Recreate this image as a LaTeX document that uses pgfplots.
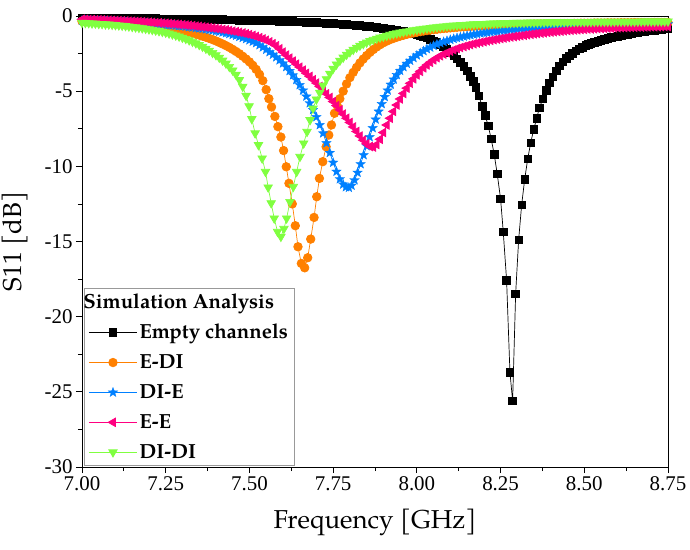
\documentclass[border=0pt]{standalone}
\usepackage{fontspec}
\setmainfont{TeX Gyre Pagella}
\newfontfamily\timesf{Liberation Serif}
\usepackage{pgfplots}
\pgfplotsset{compat=1.18}

\definecolor{cOrange}{RGB}{255,128,0}
\definecolor{cBlue}{RGB}{0,128,255}
\definecolor{cPink}{RGB}{255,0,128}
\definecolor{cGreen}{RGB}{128,255,64}

% filled five-pointed star
\pgfdeclareplotmark{fstar}{%
  \pgfpathmoveto{\pgfpointpolar{90}{\pgfplotmarksize}}%
  \pgfpathlineto{\pgfpointpolar{126}{0.42\pgfplotmarksize}}%
  \pgfpathlineto{\pgfpointpolar{162}{\pgfplotmarksize}}%
  \pgfpathlineto{\pgfpointpolar{198}{0.42\pgfplotmarksize}}%
  \pgfpathlineto{\pgfpointpolar{234}{\pgfplotmarksize}}%
  \pgfpathlineto{\pgfpointpolar{270}{0.42\pgfplotmarksize}}%
  \pgfpathlineto{\pgfpointpolar{306}{\pgfplotmarksize}}%
  \pgfpathlineto{\pgfpointpolar{342}{0.42\pgfplotmarksize}}%
  \pgfpathlineto{\pgfpointpolar{18}{\pgfplotmarksize}}%
  \pgfpathlineto{\pgfpointpolar{54}{0.42\pgfplotmarksize}}%
  \pgfpathclose\pgfusepathqfillstroke}

\begin{document}
\begin{tikzpicture}
\begin{axis}[
    scale only axis, width=586bp, height=451bp,
    xmin=7, xmax=8.75, ymin=-30, ymax=0,
    xtick={7,7.25,...,8.75}, ytick={-30,-25,...,0},
    minor x tick num=1, minor y tick num=1,
    xtick pos=bottom, ytick pos=left, tick align=outside,
    major tick length=6bp, minor tick length=4bp,
    axis line style={line width=1pt}, tick style={line width=0.8pt, black},
    xticklabel style={/pgf/number format/.cd, fixed, fixed zerofill, precision=2},
    /pgf/number format/assume math mode=true,
    ticklabel style={font=\timesf\fontsize{21}{25}\selectfont},
    xlabel={Frequency [GHz]}, ylabel={S11 [dB]},
    label style={font=\fontsize{26}{30}\selectfont},
    xlabel style={at={(axis description cs:0.5,-0.122)}, anchor=center},
    ylabel style={at={(axis description cs:-0.114,0.5)}, anchor=center},
    legend style={at={(rel axis cs:0.004,0.004)}, anchor=south west,
        draw=gray!80, line width=0.6pt, font=\bfseries\fontsize{20.5}{24}\selectfont,
        row sep=10.5bp, inner xsep=4bp, inner ysep=3bp},
    legend cell align=left,
    legend image code/.code={\draw[mark repeat=2,mark phase=2] plot coordinates {(0bp,0bp)(24bp,0bp)(48bp,0bp)};},
    every axis plot/.append style={line width=0.7pt},
]
\addlegendimage{empty legend}
\addlegendentry{\hspace{-56bp}Simulation Analysis}

\addplot[black, mark=square*, mark size=3.8bp, mark options={solid, fill=black}] table {
7.00 -0.12
7.01 -0.12
7.02 -0.12
7.03 -0.13
7.04 -0.13
7.05 -0.13
7.06 -0.13
7.07 -0.14
7.08 -0.14
7.09 -0.14
7.10 -0.14
7.11 -0.15
7.12 -0.15
7.13 -0.15
7.14 -0.15
7.15 -0.16
7.16 -0.16
7.17 -0.16
7.18 -0.16
7.19 -0.17
7.20 -0.17
7.21 -0.17
7.22 -0.17
7.23 -0.18
7.24 -0.18
7.25 -0.18
7.26 -0.18
7.27 -0.19
7.28 -0.19
7.29 -0.20
7.30 -0.20
7.31 -0.20
7.32 -0.20
7.33 -0.21
7.34 -0.21
7.35 -0.22
7.36 -0.22
7.37 -0.22
7.38 -0.22
7.39 -0.23
7.40 -0.23
7.41 -0.24
7.42 -0.24
7.43 -0.25
7.44 -0.25
7.45 -0.26
7.46 -0.26
7.47 -0.27
7.48 -0.27
7.49 -0.28
7.50 -0.28
7.51 -0.29
7.52 -0.29
7.53 -0.30
7.54 -0.30
7.55 -0.31
7.56 -0.32
7.57 -0.32
7.58 -0.33
7.59 -0.34
7.60 -0.35
7.61 -0.35
7.62 -0.36
7.63 -0.37
7.64 -0.38
7.65 -0.39
7.66 -0.40
7.67 -0.41
7.68 -0.42
7.69 -0.43
7.70 -0.44
7.71 -0.45
7.72 -0.46
7.73 -0.47
7.74 -0.49
7.75 -0.50
7.76 -0.52
7.77 -0.53
7.78 -0.55
7.79 -0.56
7.80 -0.58
7.81 -0.60
7.82 -0.62
7.83 -0.64
7.84 -0.66
7.85 -0.68
7.86 -0.70
7.87 -0.72
7.88 -0.75
7.89 -0.78
7.90 -0.82
7.91 -0.85
7.92 -0.88
7.93 -0.92
7.94 -0.96
7.95 -1.00
7.96 -1.04
7.97 -1.09
7.98 -1.14
7.99 -1.19
8.00 -1.25
8.01 -1.31
8.02 -1.38
8.03 -1.46
8.04 -1.55
8.05 -1.65
8.06 -1.75
8.07 -1.89
8.08 -2.05
8.09 -2.22
8.10 -2.40
8.11 -2.62
8.12 -2.85
8.13 -3.10
8.14 -3.35
8.15 -3.66
8.16 -4.00
8.168 -4.35
8.176 -4.75
8.185 -5.30
8.195 -6.00
8.204 -6.60
8.213 -7.30
8.222 -8.18
8.231 -9.20
8.240 -10.51
8.250 -12.16
8.258 -14.35
8.268 -17.59
8.278 -23.71
8.286 -25.60
8.295 -18.48
8.304 -14.88
8.313 -12.55
8.322 -10.87
8.331 -9.51
8.340 -8.43
8.349 -7.54
8.358 -6.80
8.366 -6.10
8.376 -5.52
8.386 -4.95
8.396 -4.45
8.406 -4.05
8.416 -3.65
8.426 -3.32
8.436 -3.05
8.446 -2.82
8.455 -2.65
8.465 -2.48
8.475 -2.32
8.485 -2.18
8.495 -2.07
8.505 -1.97
8.512 -1.90
8.52 -1.83
8.53 -1.75
8.54 -1.67
8.55 -1.60
8.56 -1.54
8.57 -1.48
8.58 -1.43
8.59 -1.38
8.60 -1.34
8.61 -1.29
8.62 -1.25
8.63 -1.21
8.64 -1.17
8.65 -1.13
8.66 -1.10
8.67 -1.06
8.68 -1.03
8.69 -1.00
8.70 -0.97
8.71 -0.94
8.72 -0.91
8.73 -0.88
8.74 -0.85
8.75 -0.82
};
\addlegendentry{Empty channels\hspace{9bp}}

\addplot[cOrange, mark=*, mark size=4.3bp, mark options={solid, fill=cOrange}] table {
7.00 -0.35
7.01 -0.36
7.02 -0.37
7.03 -0.38
7.04 -0.39
7.05 -0.40
7.06 -0.41
7.07 -0.42
7.08 -0.43
7.09 -0.45
7.10 -0.46
7.11 -0.47
7.12 -0.49
7.13 -0.50
7.14 -0.52
7.15 -0.54
7.16 -0.56
7.17 -0.58
7.18 -0.60
7.19 -0.62
7.20 -0.65
7.21 -0.67
7.22 -0.70
7.23 -0.73
7.24 -0.76
7.25 -0.79
7.26 -0.83
7.27 -0.87
7.28 -0.91
7.29 -0.95
7.30 -1.00
7.31 -1.05
7.32 -1.10
7.33 -1.15
7.34 -1.21
7.35 -1.27
7.36 -1.34
7.37 -1.41
7.38 -1.49
7.39 -1.57
7.40 -1.66
7.41 -1.76
7.42 -1.86
7.43 -1.97
7.44 -2.09
7.45 -2.22
7.46 -2.36
7.47 -2.51
7.48 -2.68
7.49 -2.86
7.50 -3.05
7.51 -3.28
7.52 -3.55
7.53 -3.88
7.54 -4.30
7.55 -4.90
7.558 -5.50
7.566 -6.05
7.576 -6.68
7.585 -7.36
7.594 -8.05
7.602 -8.95
7.610 -10.03
7.618 -11.13
7.628 -12.50
7.637 -13.95
7.645 -15.35
7.655 -16.46
7.665 -16.75
7.674 -16.08
7.683 -14.84
7.693 -13.40
7.701 -12.02
7.709 -10.80
7.719 -9.69
7.729 -8.70
7.737 -7.92
7.745 -7.25
7.754 -6.47
7.762 -5.95
7.770 -5.50
7.78 -5.00
7.79 -4.52
7.80 -4.10
7.81 -3.75
7.82 -3.42
7.83 -3.12
7.84 -2.86
7.85 -2.63
7.86 -2.42
7.87 -2.23
7.88 -2.06
7.89 -1.91
7.90 -1.78
7.91 -1.67
7.92 -1.57
7.93 -1.49
7.94 -1.41
7.95 -1.34
7.96 -1.28
7.97 -1.22
7.98 -1.17
7.99 -1.12
8.00 -1.08
8.01 -1.04
8.02 -1.00
8.03 -0.97
8.04 -0.94
8.05 -0.91
8.06 -0.88
8.07 -0.85
8.08 -0.83
8.09 -0.81
8.10 -0.79
8.11 -0.77
8.12 -0.75
8.13 -0.73
8.14 -0.72
8.15 -0.70
8.16 -0.69
8.17 -0.68
8.18 -0.67
8.19 -0.66
8.20 -0.65
8.21 -0.64
8.22 -0.63
8.23 -0.62
8.24 -0.61
8.25 -0.60
8.26 -0.60
8.27 -0.59
8.28 -0.58
8.29 -0.58
8.30 -0.57
8.31 -0.56
8.32 -0.56
8.33 -0.55
8.34 -0.55
8.35 -0.54
8.36 -0.54
8.37 -0.53
8.38 -0.53
8.39 -0.52
8.40 -0.52
8.41 -0.51
8.42 -0.51
8.43 -0.50
8.44 -0.50
8.45 -0.50
8.46 -0.50
8.47 -0.49
8.48 -0.49
8.49 -0.48
8.50 -0.48
8.51 -0.48
8.52 -0.48
8.53 -0.47
8.54 -0.47
8.55 -0.47
8.56 -0.47
8.57 -0.46
8.58 -0.46
8.59 -0.46
8.60 -0.46
8.61 -0.45
8.62 -0.45
8.63 -0.45
8.64 -0.45
8.65 -0.44
8.66 -0.44
8.67 -0.44
8.68 -0.44
8.69 -0.44
8.70 -0.44
8.71 -0.43
8.72 -0.43
8.73 -0.43
8.74 -0.43
8.75 -0.43
};
\addlegendentry{E-DI}

\addplot[cBlue, mark=fstar, mark size=5bp, mark options={solid, fill=cBlue, line width=0.3pt}] table {
7.00 -0.30
7.01 -0.30
7.02 -0.31
7.03 -0.32
7.04 -0.33
7.05 -0.34
7.06 -0.35
7.07 -0.36
7.08 -0.37
7.09 -0.38
7.10 -0.39
7.11 -0.40
7.12 -0.41
7.13 -0.42
7.14 -0.43
7.15 -0.45
7.16 -0.46
7.17 -0.47
7.18 -0.48
7.19 -0.50
7.20 -0.51
7.21 -0.53
7.22 -0.54
7.23 -0.56
7.24 -0.57
7.25 -0.59
7.26 -0.60
7.27 -0.62
7.28 -0.64
7.29 -0.66
7.30 -0.68
7.31 -0.70
7.32 -0.73
7.33 -0.76
7.34 -0.79
7.35 -0.82
7.36 -0.85
7.37 -0.88
7.38 -0.92
7.39 -0.96
7.40 -1.00
7.41 -1.04
7.42 -1.09
7.43 -1.14
7.44 -1.19
7.45 -1.25
7.46 -1.31
7.47 -1.38
7.48 -1.45
7.49 -1.53
7.50 -1.61
7.51 -1.70
7.52 -1.80
7.53 -1.94
7.54 -2.08
7.55 -2.24
7.56 -2.40
7.57 -2.57
7.58 -2.74
7.59 -2.94
7.60 -3.15
7.61 -3.39
7.62 -3.65
7.63 -3.94
7.64 -4.25
7.65 -4.59
7.66 -4.95
7.67 -5.35
7.68 -5.80
7.69 -6.25
7.70 -6.72
7.71 -7.25
7.72 -7.80
7.73 -8.45
7.74 -9.10
7.75 -9.75
7.76 -10.35
7.77 -10.85
7.78 -11.20
7.788 -11.38
7.797 -11.42
7.805 -11.28
7.814 -10.92
7.823 -10.42
7.832 -9.85
7.841 -9.25
7.850 -8.65
7.859 -8.05
7.868 -7.45
7.877 -6.88
7.886 -6.35
7.895 -5.85
7.904 -5.38
7.913 -4.95
7.922 -4.56
7.931 -4.22
7.94 -3.92
7.95 -3.64
7.96 -3.39
7.97 -3.17
7.98 -2.97
7.99 -2.79
8.00 -2.62
8.01 -2.47
8.02 -2.33
8.03 -2.20
8.04 -2.09
8.05 -1.98
8.06 -1.89
8.07 -1.80
8.08 -1.72
8.09 -1.65
8.10 -1.58
8.11 -1.52
8.12 -1.46
8.13 -1.41
8.14 -1.36
8.15 -1.31
8.16 -1.27
8.17 -1.23
8.18 -1.19
8.19 -1.15
8.20 -1.12
8.21 -1.09
8.22 -1.06
8.23 -1.03
8.24 -1.01
8.25 -0.98
8.26 -0.96
8.27 -0.94
8.28 -0.92
8.29 -0.90
8.30 -0.88
8.31 -0.86
8.32 -0.85
8.33 -0.83
8.34 -0.82
8.35 -0.80
8.36 -0.79
8.37 -0.78
8.38 -0.77
8.39 -0.75
8.40 -0.74
8.41 -0.73
8.42 -0.72
8.43 -0.71
8.44 -0.70
8.45 -0.70
8.46 -0.69
8.47 -0.68
8.48 -0.67
8.49 -0.66
8.50 -0.66
8.51 -0.65
8.52 -0.64
8.53 -0.64
8.54 -0.63
8.55 -0.62
8.56 -0.62
8.57 -0.61
8.58 -0.61
8.59 -0.60
8.60 -0.60
8.61 -0.59
8.62 -0.59
8.63 -0.58
8.64 -0.58
8.65 -0.57
8.66 -0.57
8.67 -0.57
8.68 -0.56
8.69 -0.56
8.70 -0.56
8.71 -0.55
8.72 -0.55
8.73 -0.55
8.74 -0.54
8.75 -0.54
};
\addlegendentry{DI-E}

\addplot[cPink, mark=triangle*, mark size=4.9bp, mark options={solid, fill=cPink, rotate=90}] table {
7.00 -0.22
7.01 -0.22
7.02 -0.23
7.03 -0.24
7.04 -0.25
7.05 -0.25
7.06 -0.26
7.07 -0.27
7.08 -0.28
7.09 -0.29
7.10 -0.30
7.11 -0.31
7.12 -0.32
7.13 -0.33
7.14 -0.34
7.15 -0.35
7.16 -0.36
7.17 -0.37
7.18 -0.38
7.19 -0.40
7.20 -0.41
7.21 -0.42
7.22 -0.44
7.23 -0.45
7.24 -0.47
7.25 -0.48
7.26 -0.50
7.27 -0.52
7.28 -0.54
7.29 -0.56
7.30 -0.58
7.31 -0.60
7.32 -0.62
7.33 -0.64
7.34 -0.67
7.35 -0.69
7.36 -0.72
7.37 -0.74
7.38 -0.77
7.39 -0.80
7.40 -0.83
7.41 -0.86
7.42 -0.89
7.43 -0.92
7.44 -0.96
7.45 -1.00
7.46 -1.04
7.47 -1.08
7.48 -1.13
7.49 -1.18
7.50 -1.23
7.51 -1.29
7.52 -1.36
7.53 -1.44
7.54 -1.52
7.55 -1.61
7.56 -1.72
7.57 -1.84
7.58 -1.98
7.59 -2.18
7.60 -2.40
7.61 -2.60
7.62 -2.80
7.63 -3.00
7.64 -3.20
7.65 -3.40
7.66 -3.60
7.67 -3.81
7.68 -4.02
7.69 -4.24
7.70 -4.46
7.71 -4.69
7.72 -4.92
7.73 -5.17
7.74 -5.42
7.75 -5.69
7.76 -5.96
7.77 -6.24
7.78 -6.52
7.79 -6.80
7.80 -7.08
7.81 -7.38
7.82 -7.68
7.83 -7.98
7.84 -8.26
7.85 -8.50
7.86 -8.68
7.87 -8.72
7.88 -8.55
7.89 -8.20
7.90 -7.75
7.91 -7.25
7.92 -6.80
7.93 -6.35
7.94 -5.92
7.95 -5.52
7.96 -5.15
7.97 -4.80
7.98 -4.48
7.99 -4.18
8.00 -3.92
8.01 -3.68
8.02 -3.45
8.03 -3.26
8.04 -3.08
8.05 -2.92
8.06 -2.78
8.07 -2.65
8.08 -2.54
8.09 -2.44
8.10 -2.34
8.11 -2.25
8.12 -2.17
8.13 -2.10
8.14 -2.03
8.15 -1.97
8.16 -1.91
8.17 -1.85
8.18 -1.80
8.19 -1.75
8.20 -1.71
8.21 -1.66
8.22 -1.62
8.23 -1.58
8.24 -1.54
8.25 -1.50
8.26 -1.47
8.27 -1.43
8.28 -1.40
8.29 -1.37
8.30 -1.34
8.31 -1.31
8.32 -1.28
8.33 -1.25
8.34 -1.22
8.35 -1.19
8.36 -1.17
8.37 -1.14
8.38 -1.12
8.39 -1.09
8.40 -1.07
8.41 -1.05
8.42 -1.03
8.43 -1.01
8.44 -0.99
8.45 -0.97
8.46 -0.95
8.47 -0.93
8.48 -0.92
8.49 -0.90
8.50 -0.89
8.51 -0.87
8.52 -0.86
8.53 -0.85
8.54 -0.84
8.55 -0.83
8.56 -0.82
8.57 -0.81
8.58 -0.80
8.59 -0.79
8.60 -0.78
8.61 -0.77
8.62 -0.77
8.63 -0.76
8.64 -0.75
8.65 -0.75
8.66 -0.74
8.67 -0.74
8.68 -0.73
8.69 -0.73
8.70 -0.72
8.71 -0.72
8.72 -0.71
8.73 -0.71
8.74 -0.70
8.75 -0.70
};
\addlegendentry{E-E}

\addplot[cGreen, mark=triangle*, mark size=4.9bp, mark options={solid, fill=cGreen, rotate=180}] table {
7.00 -0.45
7.01 -0.46
7.02 -0.47
7.03 -0.49
7.04 -0.50
7.05 -0.52
7.06 -0.53
7.07 -0.55
7.08 -0.56
7.09 -0.58
7.10 -0.60
7.11 -0.62
7.12 -0.64
7.13 -0.66
7.14 -0.69
7.15 -0.72
7.16 -0.75
7.17 -0.78
7.18 -0.81
7.19 -0.84
7.20 -0.88
7.21 -0.92
7.22 -0.96
7.23 -1.00
7.24 -1.05
7.25 -1.10
7.26 -1.16
7.27 -1.22
7.28 -1.29
7.29 -1.36
7.30 -1.44
7.31 -1.52
7.32 -1.61
7.33 -1.71
7.34 -1.81
7.35 -1.92
7.36 -2.04
7.37 -2.17
7.38 -2.30
7.39 -2.45
7.40 -2.60
7.41 -2.77
7.42 -2.96
7.43 -3.16
7.44 -3.38
7.45 -3.62
7.46 -3.90
7.47 -4.25
7.48 -4.70
7.49 -5.30
7.499 -6.00
7.507 -6.85
7.517 -7.80
7.527 -8.58
7.538 -9.47
7.548 -10.36
7.556 -11.40
7.565 -12.45
7.574 -13.46
7.584 -14.35
7.594 -14.68
7.603 -14.15
7.611 -13.46
7.621 -12.36
7.631 -11.36
7.641 -10.36
7.651 -9.36
7.662 -8.47
7.672 -7.70
7.681 -6.92
7.690 -6.15
7.70 -5.55
7.71 -5.10
7.72 -4.62
7.73 -4.20
7.74 -3.83
7.75 -3.50
7.76 -3.22
7.77 -2.97
7.78 -2.76
7.79 -2.57
7.80 -2.40
7.81 -2.24
7.82 -2.10
7.83 -1.97
7.84 -1.86
7.85 -1.76
7.86 -1.66
7.87 -1.58
7.88 -1.50
7.89 -1.43
7.90 -1.37
7.91 -1.31
7.92 -1.25
7.93 -1.20
7.94 -1.15
7.95 -1.10
7.96 -1.06
7.97 -1.02
7.98 -0.98
7.99 -0.94
8.00 -0.91
8.01 -0.88
8.02 -0.85
8.03 -0.82
8.04 -0.79
8.05 -0.76
8.06 -0.74
8.07 -0.71
8.08 -0.69
8.09 -0.67
8.10 -0.65
8.11 -0.63
8.12 -0.62
8.13 -0.60
8.14 -0.59
8.15 -0.57
8.16 -0.56
8.17 -0.55
8.18 -0.54
8.19 -0.53
8.20 -0.52
8.21 -0.51
8.22 -0.50
8.23 -0.49
8.24 -0.49
8.25 -0.48
8.26 -0.47
8.27 -0.47
8.28 -0.46
8.29 -0.45
8.30 -0.45
8.31 -0.44
8.32 -0.44
8.33 -0.43
8.34 -0.43
8.35 -0.43
8.36 -0.43
8.37 -0.42
8.38 -0.42
8.39 -0.41
8.40 -0.41
8.41 -0.41
8.42 -0.41
8.43 -0.40
8.44 -0.40
8.45 -0.40
8.46 -0.40
8.47 -0.39
8.48 -0.39
8.49 -0.39
8.50 -0.39
8.51 -0.39
8.52 -0.39
8.53 -0.38
8.54 -0.38
8.55 -0.38
8.56 -0.38
8.57 -0.38
8.58 -0.38
8.59 -0.37
8.60 -0.37
8.61 -0.37
8.62 -0.37
8.63 -0.37
8.64 -0.37
8.65 -0.37
8.66 -0.37
8.67 -0.36
8.68 -0.36
8.69 -0.36
8.70 -0.36
8.71 -0.36
8.72 -0.36
8.73 -0.36
8.74 -0.36
8.75 -0.36
};
\addlegendentry{DI-DI}

\coordinate (ll) at (rel axis cs:0,0);
\coordinate (ur) at (rel axis cs:1,1);
\end{axis}
\pgfresetboundingbox
\useasboundingbox ([shift={(-82bp,-83bp)}]ll) rectangle ([shift={(22bp,16bp)}]ur);
\end{tikzpicture}
\end{document}
